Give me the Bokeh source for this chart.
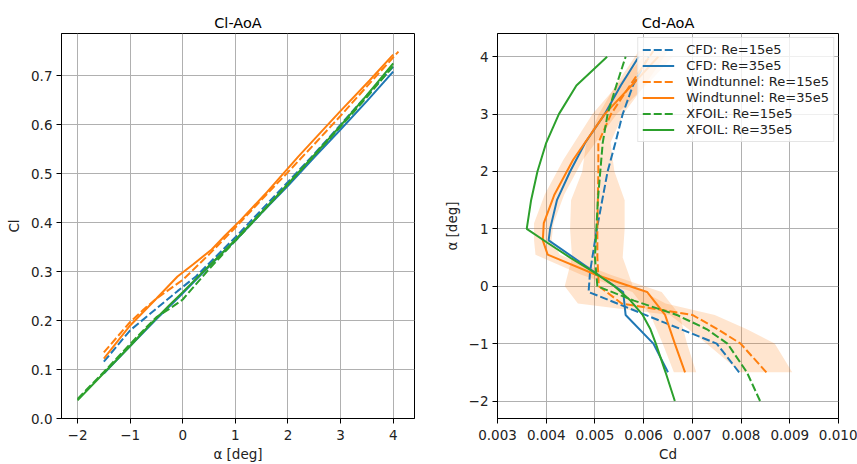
import numpy as np
from bokeh.plotting import figure
from bokeh.layouts import row
from bokeh.models import Range1d, FixedTicker
from bokeh.embed import file_html
from bokeh.resources import INLINE

BLUE = "#1f77b4"
ORANGE = "#ff7f0e"
GREEN = "#2ca02c"
FONT = "DejaVu Sans"

# ---------------- data ----------------
# CFD, Re=15e5
cfd15_alpha = [-1.5, -1.0, -0.1, 0.25, 1.0, 2.0, 2.5, 3.0, 3.5, 4.0]
cfd15_cl = [0.116, 0.18, 0.26, 0.29, 0.37, 0.483, 0.54, 0.6, 0.66, 0.718]
cfd15_cd = [0.00796, 0.0075, 0.00487, 0.0049, 0.00504, 0.00526, 0.00542, 0.00557, 0.00578, 0.0061]

# CFD, Re=35e5
cfd35_alpha = [-1.5, -1.0, -0.5, -0.1, 0.8, 1.0, 1.5, 2.0, 2.5, 3.0, 3.5, 4.0]
cfd35_cl = [0.092, 0.148, 0.203, 0.245, 0.343, 0.363, 0.42, 0.475, 0.533, 0.59, 0.648, 0.708]
cfd35_cd = [0.0065, 0.0062, 0.00563, 0.00558, 0.00405, 0.00408, 0.00422, 0.00449, 0.0048, 0.0052, 0.00553, 0.0059]

# Windtunnel, Re=15e5
wt15_alpha = [-1.5, -1.0, -0.75, -0.5, -0.3, 0.0, 0.5, 1.0, 1.5, 2.0, 2.5, 3.0, 3.5, 4.1]
wt15_cl = [0.135, 0.197, 0.222, 0.245, 0.26, 0.283, 0.335, 0.39, 0.447, 0.503, 0.56, 0.618, 0.678, 0.749]
wt15_cd = [0.00852, 0.00799, 0.00752, 0.007, 0.00555, 0.00508, 0.00505, 0.00505, 0.00506, 0.00507, 0.00507, 0.00533, 0.00572, 0.0062]
wt15_std = [0.00053, 0.0007, 0.0006, 0.00046, 0.0009, 0.0007, 0.00052, 0.00056, 0.00055, 0.00033, 0.00025, 0.00025, 0.0003, 0.0003]

# Windtunnel, Re=35e5
wt35_alpha = [-1.5, -1.0, -0.5, -0.1, 0.2, 0.55, 0.8, 1.1, 1.6, 2.2, 3.0, 3.55, 4.0]
wt35_cl = [0.122, 0.19, 0.245, 0.29, 0.315, 0.345, 0.373, 0.405, 0.462, 0.535, 0.628, 0.69, 0.743]
wt35_cd = [0.00685, 0.00664, 0.00644, 0.00607, 0.00502, 0.00403, 0.00393, 0.00395, 0.00417, 0.00455, 0.0052, 0.00581, 0.0063]
wt35_std = [0.00023, 0.00025, 0.0003, 0.0003, 0.0003, 0.00025, 0.00018, 0.0002, 0.0002, 0.0002, 0.00025, 0.0003, 0.0003]

# XFOIL, Re=15e5
xf15_alpha = [-2.0, -1.5, -1.0, -0.75, -0.5, -0.25, 0.0, 0.5, 1.0, 1.5, 2.0, 2.5, 3.0, 3.5, 4.0]
xf15_cl = [0.04, 0.095, 0.152, 0.18, 0.207, 0.224, 0.243, 0.305, 0.363, 0.42, 0.478, 0.537, 0.596, 0.656, 0.72]
xf15_cd = [0.00839, 0.00812, 0.00772, 0.0073, 0.00668, 0.0058, 0.00505, 0.005, 0.00503, 0.00506, 0.00511, 0.00516, 0.00526, 0.00544, 0.00563]

# XFOIL, Re=35e5
xf35_alpha = [-2.0, -1.5, -1.0, -0.75, -0.5, -0.25, 0.0, 0.25, 0.5, 0.75, 1.0, 1.5, 2.0, 2.5, 3.0, 3.5, 4.0]
xf35_cl = [0.037, 0.093, 0.148, 0.177, 0.205, 0.232, 0.258, 0.285, 0.312, 0.338, 0.365, 0.421, 0.479, 0.538, 0.598, 0.66, 0.725]
xf35_cd = [0.00664, 0.00645, 0.00625, 0.00614, 0.00598, 0.00573, 0.0054, 0.00497, 0.00449, 0.00404, 0.0036, 0.00369, 0.00382, 0.004, 0.00426, 0.00462, 0.00525]

alpha_ticks = [-2, -1, 0, 1, 2, 3, 4]
cl_ticks = [0.0, 0.1, 0.2, 0.3, 0.4, 0.5, 0.6, 0.7]
cd_ticks = [0.003, 0.004, 0.005, 0.006, 0.007, 0.008, 0.009, 0.010]

series = [
    ("CFD: Re=15e5", cfd15_alpha, cfd15_cl, cfd15_cd, BLUE, "dashed"),
    ("CFD: Re=35e5", cfd35_alpha, cfd35_cl, cfd35_cd, BLUE, "solid"),
    ("Windtunnel: Re=15e5", wt15_alpha, wt15_cl, wt15_cd, ORANGE, "dashed"),
    ("Windtunnel: Re=35e5", wt35_alpha, wt35_cl, wt35_cd, ORANGE, "solid"),
    ("XFOIL: Re=15e5", xf15_alpha, xf15_cl, xf15_cd, GREEN, "dashed"),
    ("XFOIL: Re=35e5", xf35_alpha, xf35_cl, xf35_cd, GREEN, "solid"),
]
DASH = "8 3"
TXT = "13.5px"


def minus(v):
    s = f"{v:g}"
    return s.replace("-", "\u2212")


def style(p, title, xlabel, ylabel):
    p.title.text = title
    p.title.align = "center"
    p.title.text_font = FONT
    p.title.text_font_size = "14.5px"
    p.title.text_font_style = "normal"
    p.title.text_color = "#000000"
    p.title.standoff = 6
    p.outline_line_color = "black"
    p.outline_line_width = 1
    p.outline_line_alpha = 1
    for ax in (p.xaxis[0], p.yaxis[0]):
        ax.axis_line_color = "black"
        ax.major_tick_line_color = "black"
        ax.major_tick_out = 5
        ax.major_tick_in = 0
        ax.minor_tick_line_color = None
        ax.major_label_text_font = FONT
        ax.major_label_text_font_size = TXT
        ax.major_label_text_color = "#222222"
        ax.axis_label_text_font = FONT
        ax.axis_label_text_font_size = TXT
        ax.axis_label_text_font_style = "normal"
        ax.axis_label_text_color = "#222222"
    p.xaxis.major_label_standoff = 6
    p.xaxis.axis_label_standoff = 3
    p.yaxis.major_label_standoff = 4
    p.yaxis.axis_label_standoff = 6
    p.xaxis.axis_label = xlabel
    p.yaxis.axis_label = ylabel
    p.xgrid.grid_line_color = "#b0b0b0"
    p.ygrid.grid_line_color = "#b0b0b0"
    p.xgrid.grid_line_width = 1
    p.ygrid.grid_line_width = 1
    p.background_fill_color = "white"
    p.border_fill_color = "white"


# ---------------- left: Cl vs alpha ----------------
p1 = figure(width=440, height=464, output_backend="svg", toolbar_location=None,
            x_range=Range1d(-2.305, 4.405), y_range=Range1d(0.0, 0.786),
            min_border_left=61, min_border_right=26, min_border_top=33, min_border_bottom=45)
style(p1, "Cl-AoA", "\u03b1 [deg]", "Cl")
p1.xaxis.ticker = FixedTicker(ticks=alpha_ticks)
p1.xaxis.major_label_overrides = {t: minus(t) for t in alpha_ticks}
p1.yaxis.ticker = FixedTicker(ticks=cl_ticks)
p1.yaxis.major_label_overrides = {t: f"{t:.1f}" for t in cl_ticks}

for name, a, cl, cd, col, dash in series:
    p1.line(a, cl, line_color=col, line_width=2, line_dash=(DASH if dash == "dashed" else "solid"))

# ---------------- right: alpha vs Cd ----------------
p2 = figure(width=417, height=464, output_backend="svg", toolbar_location=None,
            x_range=Range1d(0.003, 0.010), y_range=Range1d(-2.305, 4.405),
            min_border_left=45, min_border_right=19, min_border_top=33, min_border_bottom=45)
style(p2, "Cd-AoA", "Cd", "\u03b1 [deg]")
p2.xaxis.ticker = FixedTicker(ticks=cd_ticks)
p2.xaxis.major_label_overrides = {t: f"{t:.3f}" for t in cd_ticks}
p2.yaxis.ticker = FixedTicker(ticks=alpha_ticks)
p2.yaxis.major_label_overrides = {t: minus(t) for t in alpha_ticks}

for a, cd, sd in ((wt15_alpha, wt15_cd, wt15_std), (wt35_alpha, wt35_cd, wt35_std)):
    lo = list(np.array(cd) - np.array(sd))
    hi = list(np.array(cd) + np.array(sd))
    p2.harea(x1=lo, x2=hi, y=a, fill_color=ORANGE, fill_alpha=0.2)

for name, a, cl, cd, col, dash in series:
    p2.line(cd, a, line_color=col, line_width=2,
            line_dash=(DASH if dash == "dashed" else "solid"), legend_label=name)

lg = p2.legend[0]
lg.location = "top_right"
lg.margin = 4
lg.padding = 4
lg.spacing = 1
lg.label_height = 15
lg.glyph_height = 15
lg.glyph_width = 32
lg.label_standoff = 12
lg.label_text_font = FONT
lg.label_text_font_size = "13px"
lg.label_text_color = "#222222"
lg.border_line_color = "#cccccc"
lg.border_line_width = 1
lg.background_fill_color = "white"
lg.background_fill_alpha = 0.8

layout = row(p1, p2)
open("out.html", "w").write(file_html(layout, INLINE))
